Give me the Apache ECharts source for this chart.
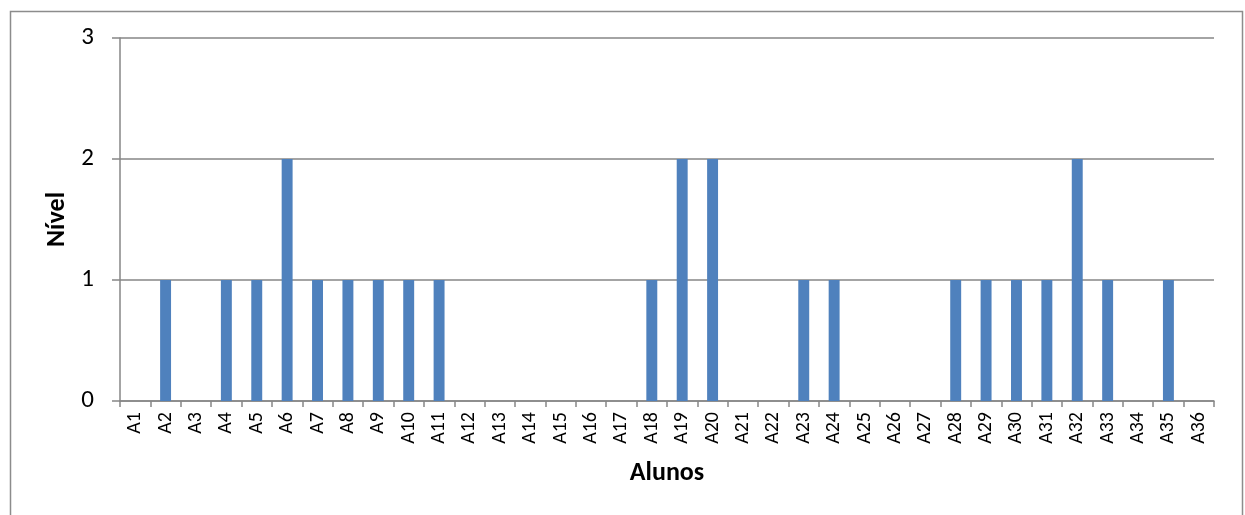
<!DOCTYPE html>
<html>
<head>
<meta charset="utf-8">
<script src="https://cdn.jsdelivr.net/npm/echarts@6/dist/echarts.min.js"></script>
<style>
html,body{margin:0;padding:0;background:#fff;}
#c{width:1245px;height:515px;}
</style>
</head>
<body>
<div id="c"></div>
<script>
const categories = ['A1','A2','A3','A4','A5','A6','A7','A8','A9','A10','A11','A12','A13','A14','A15','A16','A17','A18','A19','A20','A21','A22','A23','A24','A25','A26','A27','A28','A29','A30','A31','A32','A33','A34','A35','A36'];
const nivel = [0,1,0,1,1,2,1,1,1,1,1,0,0,0,0,0,0,1,2,2,0,0,1,1,0,0,0,1,1,1,1,2,1,0,1,0];
const yTicks = [0,1,2,3];

const font = 'Carlito, "Liberation Sans", Arial, sans-serif';
const chart = echarts.init(document.getElementById('c'));
chart.setOption({
  animation: false,
  backgroundColor: '#fff',
  graphic: [{
    type: 'rect', left: 8, top: 9,
    shape: {width: 1232, height: 530},
    style: {fill: 'none', stroke: '#8c8c8c', lineWidth: 1.5},
    silent: true
  }],
  grid: {left: 120, right: 31, top: 38, bottom: 114},
  xAxis: {
    type: 'category',
    data: categories,
    name: 'Alunos',
    nameLocation: 'middle',
    nameGap: 59,
    nameTextStyle: {fontFamily: font, fontSize: 26, fontWeight: 'bold', color: '#000'},
    axisLine: {lineStyle: {color: '#868686', width: 1.5}},
    axisTick: {show: true, length: 6, lineStyle: {color: '#868686', width: 1.5}},
    axisLabel: {rotate: 90, margin: 11, fontFamily: font, fontSize: 20, color: '#000', interval: 0},
    splitLine: {show: false}
  },
  yAxis: {
    type: 'value',
    min: 0, max: 3, interval: 1,
    name: 'Nível',
    nameLocation: 'middle',
    nameGap: 48,
    nameTextStyle: {fontFamily: font, fontSize: 26, fontWeight: 'bold', color: '#000'},
    axisLine: {show: true, lineStyle: {color: '#868686', width: 1.5}},
    axisTick: {show: true, length: 8, lineStyle: {color: '#868686', width: 1.5}},
    axisLabel: {margin: 26, fontFamily: font, fontSize: 25, color: '#000',
      formatter: v => yTicks.includes(v) ? String(v) : ''},
    splitLine: {show: true, lineStyle: {color: '#868686', width: 1.5}}
  },
  series: [{
    type: 'bar',
    data: nivel,
    barWidth: '36%',
    itemStyle: {color: '#4F81BD'}
  }]
});
</script>
</body>
</html>
